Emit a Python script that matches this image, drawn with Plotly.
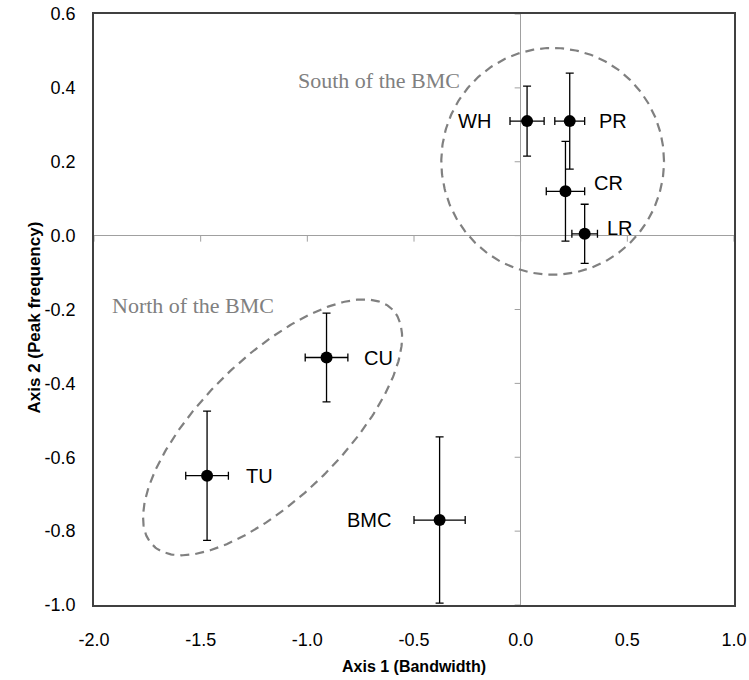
import numpy as np
import plotly.graph_objects as go

# ---- data ----
sites = ["WH", "PR", "CR", "LR", "CU", "TU", "BMC"]
axis1 = [0.03, 0.23, 0.21, 0.30, -0.91, -1.47, -0.38]
axis2 = [0.31, 0.31, 0.12, 0.005, -0.33, -0.65, -0.77]
axis1_err = [0.08, 0.07, 0.09, 0.06, 0.10, 0.10, 0.12]
axis2_err = [0.095, 0.13, 0.135, 0.08, 0.12, 0.175, 0.225]

x_ticks = [-2.0, -1.5, -1.0, -0.5, 0.0, 0.5, 1.0]
y_ticks = [0.6, 0.4, 0.2, 0.0, -0.2, -0.4, -0.6, -0.8, -1.0]

# group ellipses: centre and two conjugate semi-axis vectors (data units)
south_center = (0.15, 0.201)
south_u = (0.522, 0.0)
south_v = (0.0, 0.307)
north_center = (-1.163, -0.519)
north_u = (0.562, 0.319)
north_v = (-0.230, 0.135)

group_names = ["South of the BMC", "North of the BMC"]
group_text_x = [-0.277, -1.925]
group_text_y = [0.421, -0.190]
group_anchor = ["right", "left"]

# label placement (pixel offsets from the point)
label_anchor = ["right", "left", "left", "left", "left", "left", "right"]
label_dx = [-34, 27, 27, 20, 35, 37, -47]
label_dy = [0, 0, 8, 6, 0, 0, 0]

GRAY = "#808080"

fig = go.Figure()

t = np.linspace(0, 2 * np.pi, 361)
for c, u, v in [(south_center, south_u, south_v), (north_center, north_u, north_v)]:
    ex = c[0] + u[0] * np.cos(t) + v[0] * np.sin(t)
    ey = c[1] + u[1] * np.cos(t) + v[1] * np.sin(t)
    fig.add_trace(go.Scatter(x=ex, y=ey, mode="lines",
                             line=dict(color=GRAY, width=2.2, dash="9px,6px"),
                             hoverinfo="skip", showlegend=False))

fig.add_trace(go.Scatter(
    x=axis1, y=axis2, mode="markers",
    marker=dict(color="black", size=12),
    error_x=dict(type="data", array=axis1_err, color="black", thickness=1.3, width=4),
    error_y=dict(type="data", array=axis2_err, color="black", thickness=1.3, width=4),
    showlegend=False, text=sites))

annotations = []
for s, x, y, anc, dx, dy in zip(sites, axis1, axis2, label_anchor, label_dx, label_dy):
    annotations.append(dict(x=x, y=y, xref="x", yref="y", text=s, showarrow=False,
                            xanchor=anc, yanchor="middle", xshift=dx, yshift=dy,
                            font=dict(family="Liberation Sans, Arial", size=20, color="black")))
for name, x, y, anc in zip(group_names, group_text_x, group_text_y, group_anchor):
    annotations.append(dict(x=x, y=y, xref="x", yref="y", text=name, showarrow=False,
                            xanchor=anc, yanchor="middle",
                            font=dict(family="Liberation Serif, Times New Roman", size=22, color=GRAY)))
annotations.append(dict(x=0.5, y=0, xref="paper", yref="paper", text="<b>Axis 1 (Bandwidth)</b>",
                        showarrow=False, xanchor="center", yanchor="middle", yshift=-61,
                        font=dict(family="Liberation Sans, Arial", size=16, color="black")))
annotations.append(dict(x=0, y=0.5, xref="paper", yref="paper", text="<b>Axis 2 (Peak frequency)</b>",
                        showarrow=False, xanchor="center", yanchor="middle", xshift=-60, yshift=-8,
                        textangle=-90,
                        font=dict(family="Liberation Sans, Arial", size=17, color="black")))

shapes = []
for yv in y_ticks:
    shapes.append(dict(type="line", xref="x", yref="y", xsizemode="pixel", xanchor=0,
                       x0=-6, x1=0, y0=yv, y1=yv, line=dict(color="#a0a0a0", width=1)))
for xv in x_ticks:
    shapes.append(dict(type="line", xref="x", yref="y", ysizemode="pixel", yanchor=0,
                       y0=-6, y1=0, x0=xv, x1=xv, line=dict(color="#a0a0a0", width=1)))

fig.update_layout(
    width=749, height=680,
    margin=dict(l=94, r=15, t=14, b=75, autoexpand=False),
    paper_bgcolor="white", plot_bgcolor="white",
    annotations=annotations, shapes=shapes,
    font=dict(family="Liberation Sans, Arial", size=18, color="black"),
)
fig.update_xaxes(range=[-2, 1], tickvals=x_ticks, ticktext=[f"{v:.1f}" for v in x_ticks],
                 automargin=False,
                 showgrid=False, zeroline=True, zerolinecolor="#a0a0a0", zerolinewidth=1,
                 showline=True, mirror=True, linecolor="#404040", linewidth=1.5,
                 ticks="outside", ticklen=18, tickcolor="rgba(0,0,0,0)",
                 tickfont=dict(size=18))
fig.update_yaxes(range=[-1, 0.6], tickvals=y_ticks, ticktext=[f"{v:.1f}" for v in y_ticks],
                 automargin=False,
                 showgrid=False, zeroline=True, zerolinecolor="#a0a0a0", zerolinewidth=1,
                 showline=True, mirror=True, linecolor="#404040", linewidth=1.5,
                 ticks="outside", ticklen=13, tickcolor="rgba(0,0,0,0)",
                 tickfont=dict(size=18))

fig.write_html("out.html", config={"displayModeBar": False},
               post_script="document.body.style.margin='0';")
